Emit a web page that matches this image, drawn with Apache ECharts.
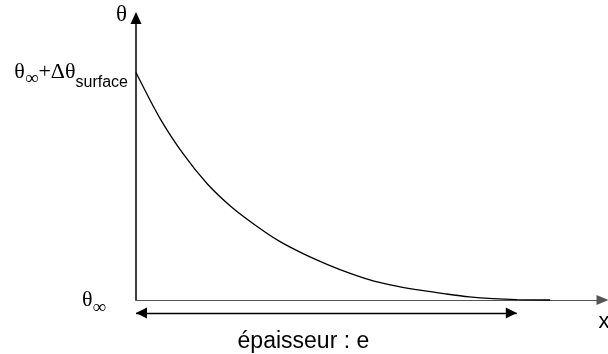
<!DOCTYPE html>
<html>
<head>
<meta charset="utf-8">
<script src="https://cdn.jsdelivr.net/npm/echarts@6/dist/echarts.min.js"></script>
<style>
html, body { margin: 0; padding: 0; background: #fff; }
#chart { width: 608px; height: 354px; }
</style>
</head>
<body>
<div id="chart"></div>
<script>
// Temperature excess through the wall, in reduced units:
// depth in the wall, and (θ − θ∞) / Δθsurface.
const depth = [0, 0.5, 1, 1.5, 2, 2.5, 3, 3.5, 4, 4.5, 5, 5.5, 6, 6.5, 7, 7.5, 8, 8.7];
const excessTemp = [1.0, 0.80, 0.64, 0.51, 0.41, 0.33, 0.26, 0.205, 0.158, 0.117, 0.083, 0.060, 0.042, 0.027, 0.014, 0.006, 0.002, 0];

// Temperature ticks on the vertical axis and their labels
const yTicks = [0, 1];
const yTickLabels = [
  '{a|θ}{as|∞}',
  '{b|θ}{bs|∞}{b|+Δθ}{bt|surface}'
];

// Wall thickness marker
const thickness = 8;
const thicknessLabel = 'épaisseur : e';
const thicknessLevel = -0.057;

const xMax = 9.8;
const yMax = 1.24;

const SERIF = '"Liberation Serif", "DejaVu Serif", serif';
const SANS = '"Liberation Sans", Arial, sans-serif';

const chart = echarts.init(document.getElementById('chart'), null, { renderer: 'canvas' });

chart.setOption({
  animation: false,
  backgroundColor: '#fff',
  grid: [
    { left: 136, right: 5.5, top: 18, bottom: 54, outerBoundsMode: 'none', containLabel: false },
    { left: 136, right: 5.5, top: 300, height: 30, outerBoundsMode: 'none', containLabel: false }
  ],
  xAxis: [
    {
      gridIndex: 0,
      type: 'value',
      min: 0,
      max: xMax,
      name: 'x',
      nameLocation: 'end',
      nameGap: -4,
      nameTextStyle: {
        fontFamily: SANS, fontSize: 22, color: '#000',
        align: 'left', verticalAlign: 'top', padding: [11, 0, 0, 0]
      },
      axisLine: {
        show: true, onZero: false,
        symbol: ['none', 'triangle'], symbolSize: [10, 12],
        lineStyle: { color: '#555', width: 1 }
      },
      axisTick: { show: false },
      axisLabel: { show: false },
      splitLine: { show: false }
    },
    { gridIndex: 1, type: 'value', min: 0, max: xMax, show: false }
  ],
  yAxis: [
    {
      gridIndex: 0,
      type: 'value',
      min: 0,
      max: yMax,
      interval: 1,
      name: 'θ',
      nameLocation: 'end',
      nameGap: 3,
      nameTextStyle: {
        fontFamily: SERIF, fontSize: 23, color: '#000',
        align: 'right', verticalAlign: 'middle', padding: [0, 9, 0, 0]
      },
      axisLine: {
        show: true, onZero: false,
        symbol: ['none', 'triangle'], symbolSize: [11, 12],
        lineStyle: { color: '#000', width: 1.5 }
      },
      axisTick: { show: false },
      splitLine: { show: false },
      axisLabel: {
        margin: 8,
        showMaxLabel: false,
        verticalAlign: 'middle',
        formatter: function (v) {
          const i = yTicks.indexOf(v);
          return i < 0 ? '' : yTickLabels[i];
        },
        rich: {
          a:  { fontFamily: SERIF, fontSize: 22, lineHeight: 22, color: '#000', verticalAlign: 'top', padding: [0, 0, 12, 0] },
          as: { fontFamily: SERIF, fontSize: 19, lineHeight: 19, color: '#000', verticalAlign: 'top', padding: [10, 22, 5, 0] },
          b:  { fontFamily: SERIF, fontSize: 22, lineHeight: 22, color: '#000', verticalAlign: 'top', padding: [0, 0, 28, 0] },
          bs: { fontFamily: SERIF, fontSize: 19, lineHeight: 19, color: '#000', verticalAlign: 'top', padding: [8, 0, 23, 0] },
          bt: { fontFamily: SANS, fontSize: 16, lineHeight: 16, color: '#000', verticalAlign: 'top', padding: [13, 0, 21, 0] }
        }
      }
    },
    { gridIndex: 1, type: 'value', min: -0.132, max: 0, show: false }
  ],
  series: [
    {
      type: 'line',
      xAxisIndex: 0,
      yAxisIndex: 0,
      data: depth.map((d, i) => [d, excessTemp[i]]),
      showSymbol: false,
      smooth: 0.3,
      clip: false,
      lineStyle: { color: '#000', width: 1.3 },
      silent: true
    },
    {
      type: 'line',
      xAxisIndex: 1,
      yAxisIndex: 1,
      data: [],
      silent: true,
      markLine: {
        silent: true,
        symbol: ['triangle', 'triangle'],
        symbolSize: [11, 11],
        symbolOffset: [[0, 5.5], [0, 5.5]],
        lineStyle: { color: '#000', width: 1.3, type: 'solid' },
        label: {
          show: true,
          formatter: thicknessLabel,
          position: 'insideMiddleBottom',
          distance: 17,
          offset: [-23, 0],
          fontFamily: SANS,
          fontSize: 23,
          color: '#000'
        },
        emphasis: { disabled: true },
        data: [[{ coord: [0, thicknessLevel] }, { coord: [thickness, thicknessLevel] }]]
      }
    }
  ]
});
</script>
</body>
</html>
